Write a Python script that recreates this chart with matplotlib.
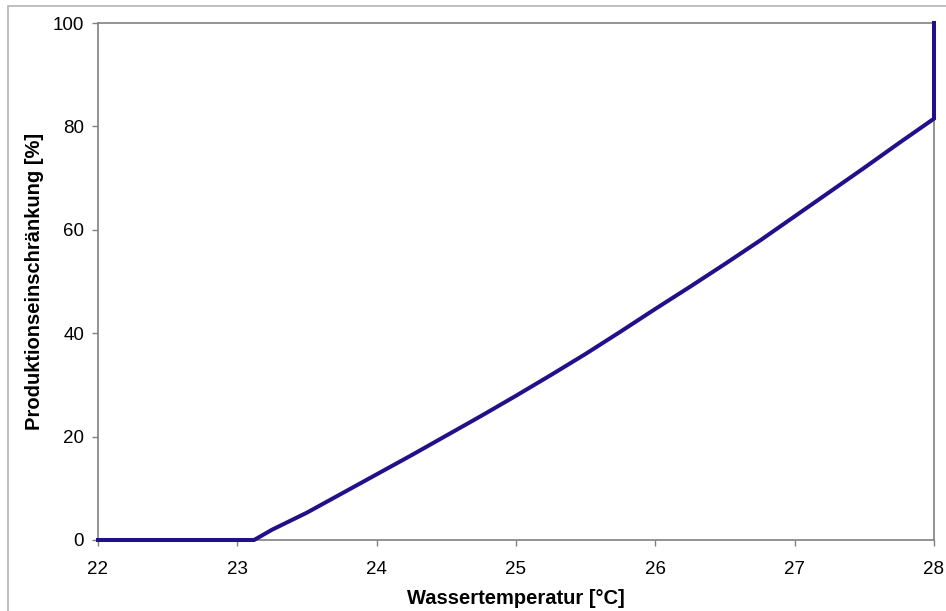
import matplotlib.pyplot as plt
from matplotlib.patches import Rectangle

# --- data --- #
temp = [22.0, 23.0, 23.12, 23.25, 23.5, 23.75, 24.0, 24.25, 24.5, 24.75,
        25.0, 25.25, 25.5, 25.75, 26.0, 26.25, 26.5, 26.75, 27.0, 27.25,
        27.5, 27.75, 28.0, 28.0]
reduction = [0.0, 0.0, 0.0, 2.0, 5.3, 9.0, 12.7, 16.4, 20.2, 24.0,
             27.9, 31.9, 36.0, 40.3, 44.7, 49.0, 53.4, 57.9, 62.6, 67.3,
             72.0, 76.8, 81.5, 100.0]

x_ticks = [22, 23, 24, 25, 26, 27, 28]
y_ticks = [0, 20, 40, 60, 80, 100]

plt.rcParams['font.family'] = ['Liberation Sans', 'DejaVu Sans']

fig = plt.figure(figsize=(9.46, 6.11), dpi=100)
ax = fig.add_axes([98 / 946, 71 / 611, 836 / 946, 517 / 611])

# outer chart border (excel style)
fig.patches.append(Rectangle((8 / 946, -0.05), 1.0, (611 - 6) / 611 + 0.05,
                             transform=fig.transFigure, fill=False,
                             edgecolor='#b4b4b4', linewidth=1.2))

ax.plot(temp, reduction, color='#22108a', linewidth=2.9,
        solid_joinstyle='miter', zorder=3, clip_on=False)

ax.set_xlim(22, 28)
ax.set_ylim(0, 100)
ax.set_xticks(x_ticks)
ax.set_yticks(y_ticks)
ax.tick_params(axis='both', direction='out', length=4, width=1,
               color='#808080', labelsize=13.5)
ax.tick_params(axis='x', pad=11)
ax.tick_params(axis='y', pad=6)

for s in ax.spines.values():
    s.set_color('#808080')
    s.set_linewidth(1.2)

ax.set_xlabel('Wassertemperatur [°C]', fontsize=14.5, fontweight='bold', labelpad=8)
ax.set_ylabel('Produktionseinschränkung [%]', fontsize=14.5, fontweight='bold', labelpad=6)

fig.savefig('out.png', dpi=100)
